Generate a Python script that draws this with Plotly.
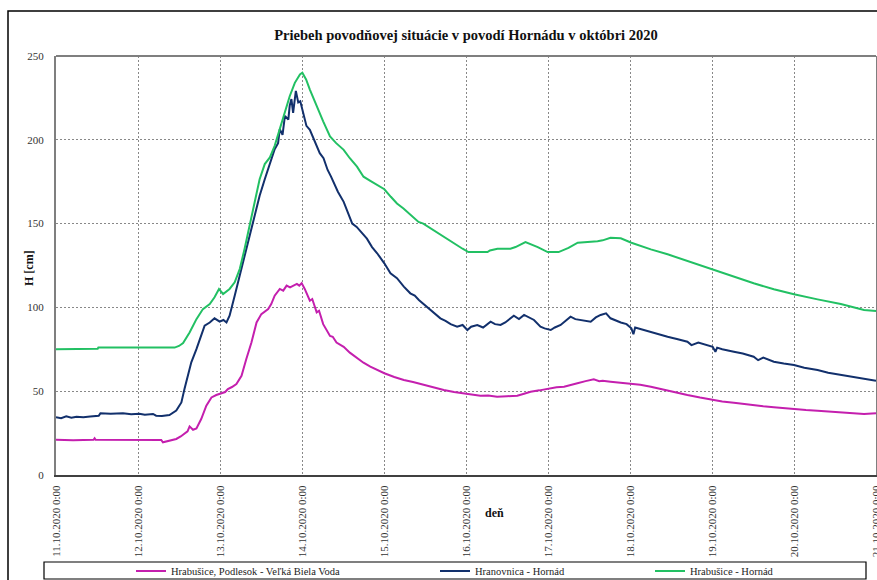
import pandas as pd
import plotly.graph_objects as go

# ---------------- data ----------------
start = "2020-10-11 00:00"
tick_days = ["2020-10-11", "2020-10-12", "2020-10-13", "2020-10-14", "2020-10-15", "2020-10-16",
             "2020-10-17", "2020-10-18", "2020-10-19", "2020-10-20", "2020-10-21"]
y_ticks = [0, 50, 100, 150, 200, 250]

names = ["Hrabušice, Podlesok - Veľká Biela Voda", "Hranovnica - Hornád", "Hrabušice - Hornád"]

# hours since 11.10.2020 0:00 and water level H [cm]
pink_h = [0, 5, 11, 11.3, 11.6, 20, 30.8, 31.3, 32, 33.2, 35.2, 36.5, 37.6, 38.5, 39.1, 40.1, 41.1, 42.5, 44,
          45.5, 46.9, 48.4, 49.5, 50.3, 51.5, 52.8, 54.3, 55.7, 57.2, 58.7, 60.1, 62.1, 63, 64, 65.5, 66.5,
          67.5, 68.5, 69.4, 70.5, 71.2, 71.9, 72.8, 74.3, 75, 76.3, 77, 78.2, 80.2, 81, 82.1, 84.2, 86, 88.1,
          90, 92, 94, 96.1, 99, 101.8, 104.5, 107.6, 110.5, 113.5, 116.5, 119.4, 122, 124.2, 126.5, 129.1,
          132, 135, 137, 138.9, 141.5, 144.3, 146.5, 148.7, 150.5, 152.6, 155, 157.4, 159, 160, 162.3, 165.3,
          168.4, 171, 174.1, 176.5, 179, 182, 184.8, 188.5, 192.2, 195, 198.4, 201, 204.2, 207, 210.1, 213,
          216, 219.5, 222.9, 226, 229.7, 233, 236.5, 240]
pink_v = [21.1, 20.8, 21.0, 21.9, 21.0, 20.9, 20.9, 19.5, 19.8, 20.5, 21.5, 23, 24.5, 26, 29, 27, 27.8, 33.4, 41.4,
          46.3, 47.7, 48.9, 49.5, 51.3, 52.5, 54.3, 59.2, 69.2, 79.1, 91, 96, 99, 102, 107, 111, 110,
          113, 112, 113, 114, 113, 114.5, 111, 104, 105, 97, 98, 90, 83, 82.5, 79, 76.5, 73, 69.6,
          67, 64.6, 62.5, 60.7, 58.5, 56.7, 55.5, 53.7, 52, 50.7, 49.5, 48.7, 48, 47.3, 47.5, 46.7,
          47, 47.3, 48.5, 49.7, 50.5, 51.7, 52.3, 52.7, 53.8, 54.7, 56, 57.1, 56, 56.3, 55.7, 55.1,
          54.7, 53.8, 52.7, 51.5, 50.3, 49, 47.7, 46.2, 44.7, 43.9, 43.1, 42.4, 41.8, 41, 40.4, 39.8,
          39.2, 38.8, 38.4, 37.9, 37.4, 37, 36.4, 36.8]

blue_h = [0, 1.5, 3, 4.5, 6, 8, 10, 12.5, 13, 16, 19.6, 22, 24.4, 26, 28.4, 29.3, 31, 33.2, 35.2, 36.7, 37.6,
          38.6, 39.6, 41.1, 42.5, 43.5, 45, 46.4, 47.9, 49, 49.9, 50.8, 52.3, 53.8, 55.2, 56.7, 58.2, 59.6,
          61.1, 62.6, 64, 65, 65.5, 66.3, 67, 68, 68.4, 68.9, 69.4, 70.2, 70.9, 71.5, 72.3, 73.3, 74.3, 75.3,
          76.3, 77.2, 78.3, 79.5, 80.5, 81.3, 82.5, 84.2, 85.5, 86.7, 88, 90, 91, 92.5, 94, 96.1, 97.9, 99.8,
          101.8, 103.7, 105, 106.2, 108.6, 110.5, 112.5, 114, 115.5, 117.4, 119, 120.4, 121.5, 123.3, 125,
          127.2, 128.5, 130.1, 131.5, 134, 135.5, 137, 139.9, 141.8, 143, 144.8, 146, 147.7, 149, 150.6, 152,
          153.6, 156.5, 158, 159.4, 161, 162.3, 165.3, 167, 168.4, 169, 169.5, 172, 174.1, 176.5, 179, 182,
          184.8, 186, 188, 192.2, 193, 193.5, 195, 198.4, 201, 204.2, 205.5, 207, 210.1, 213, 216, 219,
          222.9, 226, 229.7, 233, 236.5, 240]
blue_v = [34.4, 33.9, 35.0, 34.2, 34.8, 34.5, 34.9, 35.3, 36.8, 36.5, 36.8, 36.3, 36.6, 36.0, 36.4, 35.4, 35.2, 35.8, 38.4, 43.3, 51.3,
          59.2, 67.2, 75.1, 83.1, 89.1, 91, 93.5, 91.5, 92.5, 91, 95, 107, 119, 131, 142.7, 154.7, 166.6,
          176.5, 186.5, 194.4, 198, 206.4, 203, 214.3, 212, 220.3, 224.3, 216, 229.2, 222.3, 223, 216.3, 208.3, 206, 201,
          197, 192, 189, 182, 178, 174, 169, 163, 156, 150, 148, 143, 141, 136, 132.3, 126.3, 120.3, 117.4,
          112.4, 108.4, 107, 104.4, 100.4, 97, 93.5, 92, 90, 88.5, 89.5, 86.5, 88.5, 89.5, 88,
          91.5, 90, 89.5, 91, 95, 93, 95.5, 92.5, 88.5, 87.5, 86.5, 88, 89.5, 92, 94.5, 93,
          92.5, 91.5, 94, 95.5, 96.5, 93.5, 91, 90, 87.5, 84, 88, 86.5, 85.5, 84, 82.5, 81,
          79.5, 77.5, 79, 76.5, 73.5, 76, 75, 73.6, 72.5, 70.6, 68.5, 70, 67.6, 66.5, 65.6, 64,
          62.6, 61, 59.7, 58.6, 57.7, 56.3]

green_h = [0, 12.2, 12.4, 34.7, 36, 37.2, 39.1, 41.1, 43, 45, 46.4, 47.7, 48.9, 50.8, 52.3, 53.8, 55.2, 56.7,
           58.2, 59.6, 61.1, 62.6, 64, 65.5, 67, 68.4, 69.9, 71.4, 72.1, 73.2, 74.3, 76.3, 78.2, 80.2, 82, 84.2,
           86, 88.1, 90, 92, 94, 96.1, 98, 99.8, 101.7, 104, 106.1, 107.5, 110.5, 113.4, 115.5, 117.5, 119,
           120.7, 126.3, 127, 129.2, 133, 134.5, 137.4, 141, 143.9, 147.1, 150, 152.7, 158.5, 160, 162.3,
           165.3, 168.4, 174.1, 179, 184.8, 192.2, 198.4, 204.2, 210.1, 216, 222.9, 229.7, 236.5, 240]
green_v = [75, 75.3, 76, 76, 77, 78.7, 85, 93, 99, 102, 106, 111, 108, 111, 115, 123, 135, 149,
           163, 176.5, 185.5, 189.5, 196.4, 206, 216, 226, 234, 239, 240, 236, 230, 220, 211, 202, 198, 194,
           189, 184, 178, 175.5, 173, 170.5, 166, 162, 159, 155, 151, 150, 146, 142, 139.5, 137, 135,
           133, 133, 134, 135, 135, 136, 139, 136, 133, 133, 135.5, 138.6, 139.5, 140, 141.5,
           141.2, 138.6, 134.6, 131.7, 127.7, 122.9, 118.3, 114.4, 110.8, 107.8, 104.8, 102, 98.4, 97.9]

colors = ["#C41FAE", "#12306C", "#22C063"]

# ---------------- figure ----------------
t0 = pd.Timestamp(start)
def to_time(hours):
    return [t0 + pd.Timedelta(hours=h) for h in hours]

series = [(pink_h, pink_v), (blue_h, blue_v), (green_h, green_v)]
legends = ["legend", "legend2", "legend3"]

FONT = "Liberation Serif"
W, H = 877, 580
L, R, T, B = 56, 1, 56, 105
pw, ph = W - L - R, H - T - B

def px_x(x):
    return (x - L) / pw
def px_y(y):
    return (H - B - y) / ph

fig = go.Figure()
for (hh, vv), nm, col, lg in zip(series, names, colors, legends):
    fig.add_trace(go.Scatter(x=to_time(hh), y=vv, mode="lines", name=nm,
                             line=dict(color=col, width=2), legend=lg))

legend_common = dict(orientation="h", bgcolor="rgba(0,0,0,0)", borderwidth=0,
                     font=dict(family=FONT, size=10.5, color="#222"), xanchor="left",
                     yanchor="middle", y=px_y(571), itemwidth=30, tracegroupgap=0)
text_starts = [168, 472, 687]
leg_layout = {}
for lg, xs in zip(legends, text_starts):
    leg_layout[lg] = dict(legend_common, x=px_x(xs - 37))

fig.update_layout(
    width=W, height=H,
    margin=dict(l=L, r=R, t=T, b=B, autoexpand=False),
    paper_bgcolor="white", plot_bgcolor="white",
    font=dict(family=FONT, size=11, color="#333"),
    title=dict(text="<b>Priebeh povodňovej situácie v povodí Hornádu v októbri 2020</b>",
               x=0.5, xref="paper", xanchor="center", y=1 - 35 / H, yanchor="middle",
               font=dict(family=FONT, size=14.5, color="#111")),
    xaxis=dict(type="date", range=[tick_days[0], tick_days[-1]], tickvals=tick_days,
               tickformat="%d.%m.%Y %-H:%M", tickangle=-90, automargin=False,
               showgrid=True, gridcolor="#888", gridwidth=1, griddash="2px,2px",
               showline=True, linecolor="#404040", linewidth=2, zeroline=False,
               ticks="", ticklabelstandoff=4, ticklabeloverflow="allow",
               tickfont=dict(family=FONT, size=11, color="#333")),
    yaxis=dict(range=[0, 250], tickvals=y_ticks, showgrid=True, gridcolor="#888", gridwidth=1,
               griddash="2px,2px", showline=True, linecolor="#7f7f7f", linewidth=2, mirror=True,
               zeroline=False, ticks="", ticklabelstandoff=8, automargin=False,
               tickfont=dict(family=FONT, size=11, color="#333")),
    showlegend=True,
    **leg_layout,
)

# axis titles
fig.add_annotation(text="<b>deň</b>", xref="paper", yref="paper", x=px_x(494), y=px_y(522),
                   showarrow=False, font=dict(family=FONT, size=12, color="#111"))
fig.add_annotation(text="<b>H [cm]</b>", xref="paper", yref="paper", x=px_x(20), y=px_y(268),
                   showarrow=False, textangle=-90, font=dict(family=FONT, size=12, color="#111"))

# plot area top edge, outer chart frame, legend frame
fig.add_shape(type="line", xref="paper", yref="paper", x0=0, x1=1, y0=1, y1=1,
              line=dict(color="#7f7f7f", width=2))
fig.add_shape(type="rect", xref="paper", yref="paper", x0=px_x(8), x1=px_x(882), y0=px_y(11), y1=px_y(592),
              line=dict(color="#000", width=1.5), layer="below")
fig.add_shape(type="rect", xref="paper", yref="paper", x0=px_x(44), x1=px_x(866), y0=px_y(562), y1=px_y(579),
              line=dict(color="#000", width=1.2), layer="below")

fig.write_html("out.html")
